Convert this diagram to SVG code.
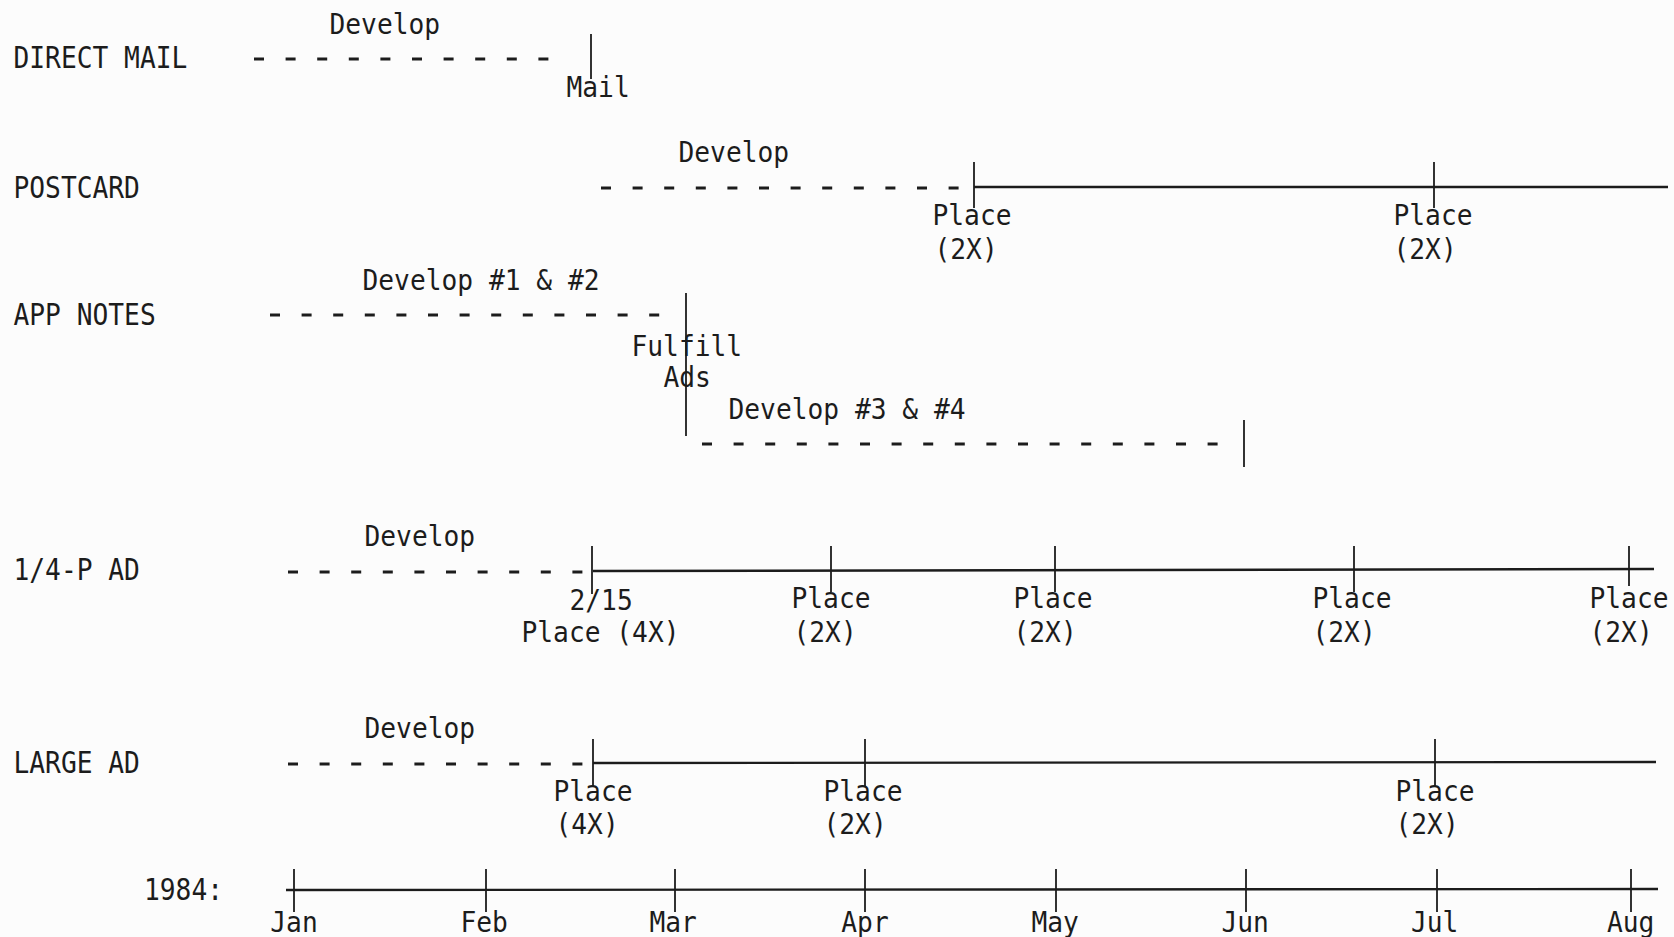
<svg xmlns="http://www.w3.org/2000/svg" width="1674" height="937" viewBox="0 0 1674 937">
<style>
  text { font-family: "DejaVu Sans Mono", "Liberation Mono", monospace; fill: #1c1c1c; font-size: 28px; }
  .lbl { font-size: 30px; }
  .solid { stroke: #1c1c1c; stroke-width: 2.4; fill: none; }
  .tick { stroke: #1c1c1c; stroke-width: 1.8; fill: none; }
  .dash { stroke: #1c1c1c; stroke-width: 3; stroke-dasharray: 10 21.6; fill: none; }
</style>
<rect x="0" y="0" width="1674" height="937" fill="#fcfcfc"/>

<g id="connectors">
  <!-- DIRECT MAIL -->
  <line class="dash" x1="254" y1="59" x2="560" y2="59"/>
  <line class="tick" x1="591" y1="34" x2="591" y2="79"/>
  <!-- POSTCARD -->
  <line class="dash" x1="601" y1="188" x2="966" y2="188"/>
  <line class="solid" x1="974" y1="187" x2="1668" y2="187"/>
  <line class="tick" x1="974" y1="162" x2="974" y2="208"/>
  <line class="tick" x1="1434" y1="162" x2="1434" y2="208"/>
  <!-- APP NOTES -->
  <line class="dash" x1="270" y1="315" x2="665" y2="315"/>
  <line class="tick" x1="686" y1="293" x2="686" y2="436"/>
  <line class="dash" x1="702" y1="444" x2="1222" y2="444"/>
  <line class="tick" x1="1244" y1="420" x2="1244" y2="467"/>
  <!-- 1/4-P AD -->
  <line class="dash" x1="288" y1="572" x2="588" y2="572"/>
  <line class="solid" x1="593" y1="571" x2="1654" y2="569"/>
  <line class="tick" x1="592" y1="546" x2="592" y2="594"/>
  <line class="tick" x1="831" y1="546" x2="831" y2="592"/>
  <line class="tick" x1="1055" y1="546" x2="1055" y2="592"/>
  <line class="tick" x1="1354" y1="546" x2="1354" y2="592"/>
  <line class="tick" x1="1629" y1="546" x2="1629" y2="586"/>
  <!-- LARGE AD -->
  <line class="dash" x1="288" y1="764" x2="588" y2="764"/>
  <line class="solid" x1="593" y1="763" x2="1656" y2="762"/>
  <line class="tick" x1="593" y1="739" x2="593" y2="786"/>
  <line class="tick" x1="865" y1="739" x2="865" y2="786"/>
  <line class="tick" x1="1435" y1="739" x2="1435" y2="786"/>
  <!-- Timeline -->
  <line class="solid" x1="286" y1="890" x2="1658" y2="889"/>
  <line class="tick" x1="294" y1="869" x2="294" y2="912"/>
  <line class="tick" x1="486" y1="869" x2="486" y2="912"/>
  <line class="tick" x1="675" y1="869" x2="675" y2="912"/>
  <line class="tick" x1="865" y1="869" x2="865" y2="912"/>
  <line class="tick" x1="1056" y1="869" x2="1056" y2="912"/>
  <line class="tick" x1="1246" y1="869" x2="1246" y2="912"/>
  <line class="tick" x1="1437" y1="869" x2="1437" y2="912"/>
  <line class="tick" x1="1631" y1="869" x2="1631" y2="912"/>
</g>

<g id="direct-mail">
  <text class="lbl" x="13.5" y="68" textLength="173.8" lengthAdjust="spacingAndGlyphs">DIRECT MAIL</text>
  <text x="329.5" y="34" textLength="110.6" lengthAdjust="spacingAndGlyphs">Develop</text>
  <text x="566.5" y="97" textLength="63.2" lengthAdjust="spacingAndGlyphs">Mail</text>
</g>

<g id="postcard">
  <text class="lbl" x="13.5" y="198" textLength="126.4" lengthAdjust="spacingAndGlyphs">POSTCARD</text>
  <text x="678.5" y="162" textLength="110.6" lengthAdjust="spacingAndGlyphs">Develop</text>
  <text x="932.5" y="225" textLength="79" lengthAdjust="spacingAndGlyphs">Place</text>
  <text x="934.5" y="259" textLength="63.2" lengthAdjust="spacingAndGlyphs">(2X)</text>
  <text x="1393.5" y="225" textLength="79" lengthAdjust="spacingAndGlyphs">Place</text>
  <text x="1393.5" y="259" textLength="63.2" lengthAdjust="spacingAndGlyphs">(2X)</text>
</g>

<g id="app-notes">
  <text class="lbl" x="13.5" y="325" textLength="142.2" lengthAdjust="spacingAndGlyphs">APP NOTES</text>
  <text x="362.5" y="290" textLength="237" lengthAdjust="spacingAndGlyphs">Develop #1 &amp; #2</text>
  <text x="631.5" y="356" textLength="110.6" lengthAdjust="spacingAndGlyphs">Fulfill</text>
  <text x="663.5" y="387" textLength="47.4" lengthAdjust="spacingAndGlyphs">Ads</text>
  <text x="728.5" y="419" textLength="237" lengthAdjust="spacingAndGlyphs">Develop #3 &amp; #4</text>
</g>

<g id="quarter-page-ad">
  <text class="lbl" x="13.5" y="580" textLength="126.4" lengthAdjust="spacingAndGlyphs">1/4-P AD</text>
  <text x="364.5" y="546" textLength="110.6" lengthAdjust="spacingAndGlyphs">Develop</text>
  <text x="569.5" y="610" textLength="63.2" lengthAdjust="spacingAndGlyphs">2/15</text>
  <text x="521.5" y="642" textLength="158" lengthAdjust="spacingAndGlyphs">Place (4X)</text>
  <text x="791.5" y="608" textLength="79" lengthAdjust="spacingAndGlyphs">Place</text>
  <text x="793.5" y="642" textLength="63.2" lengthAdjust="spacingAndGlyphs">(2X)</text>
  <text x="1013.5" y="608" textLength="79" lengthAdjust="spacingAndGlyphs">Place</text>
  <text x="1013.5" y="642" textLength="63.2" lengthAdjust="spacingAndGlyphs">(2X)</text>
  <text x="1312.5" y="608" textLength="79" lengthAdjust="spacingAndGlyphs">Place</text>
  <text x="1312.5" y="642" textLength="63.2" lengthAdjust="spacingAndGlyphs">(2X)</text>
  <text x="1589.5" y="608" textLength="79" lengthAdjust="spacingAndGlyphs">Place</text>
  <text x="1589.5" y="642" textLength="63.2" lengthAdjust="spacingAndGlyphs">(2X)</text>
</g>

<g id="large-ad">
  <text class="lbl" x="13.5" y="773" textLength="126.4" lengthAdjust="spacingAndGlyphs">LARGE AD</text>
  <text x="364.5" y="738" textLength="110.6" lengthAdjust="spacingAndGlyphs">Develop</text>
  <text x="553.5" y="801" textLength="79" lengthAdjust="spacingAndGlyphs">Place</text>
  <text x="555.5" y="834" textLength="63.2" lengthAdjust="spacingAndGlyphs">(4X)</text>
  <text x="823.5" y="801" textLength="79" lengthAdjust="spacingAndGlyphs">Place</text>
  <text x="823.5" y="834" textLength="63.2" lengthAdjust="spacingAndGlyphs">(2X)</text>
  <text x="1395.5" y="801" textLength="79" lengthAdjust="spacingAndGlyphs">Place</text>
  <text x="1395.5" y="834" textLength="63.2" lengthAdjust="spacingAndGlyphs">(2X)</text>
</g>

<g id="timeline">
  <text class="lbl" x="144" y="900" textLength="79" lengthAdjust="spacingAndGlyphs">1984:</text>
  <text x="270.3" y="932" textLength="47.4" lengthAdjust="spacingAndGlyphs">Jan</text>
  <text x="460.5" y="932" textLength="47.4" lengthAdjust="spacingAndGlyphs">Feb</text>
  <text x="649.5" y="932" textLength="47.4" lengthAdjust="spacingAndGlyphs">Mar</text>
  <text x="841.3" y="932" textLength="47.4" lengthAdjust="spacingAndGlyphs">Apr</text>
  <text x="1031.5" y="932" textLength="47.4" lengthAdjust="spacingAndGlyphs">May</text>
  <text x="1221.5" y="932" textLength="47.4" lengthAdjust="spacingAndGlyphs">Jun</text>
  <text x="1411" y="932" textLength="47.4" lengthAdjust="spacingAndGlyphs">Jul</text>
  <text x="1607" y="932" textLength="47.4" lengthAdjust="spacingAndGlyphs">Aug</text>
</g>
</svg>
